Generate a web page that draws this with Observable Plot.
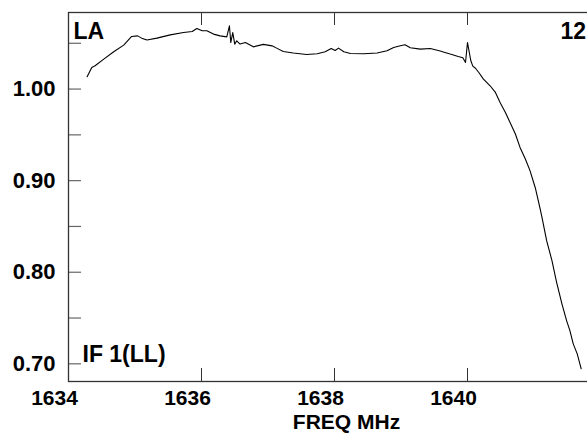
<!DOCTYPE html>
<html>
<head>
<meta charset="utf-8">
<script src="https://cdn.jsdelivr.net/npm/d3@7"></script>
<script src="https://cdn.jsdelivr.net/npm/@observablehq/plot@0.6"></script>
<style>
  html, body { margin: 0; padding: 0; background: #fff; overflow: hidden; }
</style>
</head>
<body>
<div id="chart"></div>
<script>
const freq = [1634.28,1634.35,1634.40,1634.53,1634.68,1634.83,1634.95,1635.04,1635.10,1635.18,1635.33,1635.53,1635.73,1635.86,1635.93,1636.01,1636.08,1636.18,1636.28,1636.38,1636.42,1636.44,1636.47,1636.50,1636.53,1636.58,1636.66,1636.78,1636.93,1637.06,1637.13,1637.23,1637.38,1637.58,1637.74,1637.86,1637.95,1638.01,1638.06,1638.14,1638.24,1638.44,1638.64,1638.79,1638.89,1638.99,1639.06,1639.14,1639.29,1639.44,1639.59,1639.66,1639.74,1639.80,1639.86,1639.93,1639.97,1640.00,1640.05,1640.08,1640.12,1640.17,1640.24,1640.34,1640.42,1640.49,1640.57,1640.64,1640.72,1640.79,1640.87,1640.94,1641.02,1641.09,1641.12,1641.19,1641.27,1641.34,1641.42,1641.49,1641.54,1641.59,1641.65,1641.71];
const amplitude = [1.0134,1.0236,1.0254,1.0327,1.0407,1.0480,1.0574,1.0581,1.0556,1.0535,1.0556,1.0592,1.0617,1.0628,1.0661,1.0636,1.0636,1.0600,1.0581,1.0570,1.0691,1.0508,1.0617,1.0491,1.0527,1.0491,1.0508,1.0461,1.0488,1.0472,1.0447,1.0410,1.0393,1.0377,1.0385,1.0407,1.0443,1.0421,1.0447,1.0407,1.0388,1.0385,1.0393,1.0418,1.0454,1.0472,1.0483,1.0451,1.0436,1.0443,1.0415,1.0400,1.0382,1.0370,1.0356,1.0341,1.0290,1.0508,1.0309,1.0251,1.0227,1.0181,1.0109,1.0036,0.9963,0.9854,0.9745,0.9636,0.9509,0.9363,0.9236,0.9109,0.8920,0.8700,0.8599,0.8345,0.8127,0.7890,0.7655,0.7472,0.7363,0.7218,0.7109,0.6946];

const xTicks = [1634, 1636, 1638, 1640, 1642];
const xLabels = [1634, 1636, 1638, 1640];
const yTicks = [0.70, 0.75, 0.80, 0.85, 0.90, 0.95, 1.00, 1.05];
const yLabels = [0.70, 0.80, 0.90, 1.00];
const xTitle = "FREQ MHz";
const sourceLabel = "LA";
const ifLabel = "IF 1(LL)";
const dateLabel = "12";

const data = freq.map((f, i) => ({f, v: amplitude[i]}));

const W = 587, H = 434;
const mL = 68, mR = -13, mT = 12, mB = 53;
const plotW = W - mL - mR, plotH = H - mT - mB;
const tickLen = 13;
const font = "'Liberation Sans', Arial, Helvetica, sans-serif";

const chart = Plot.plot({
  width: W,
  height: H,
  marginLeft: mL,
  marginRight: mR,
  marginTop: mT,
  marginBottom: mB,
  style: {fontFamily: font, fontSize: "22px", fontWeight: "bold", color: "#000", background: "#fff"},
  x: {domain: [1634, 1642]},
  y: {domain: [0.6807, 1.0836]},
  marks: [
    Plot.tickY(yTicks, {y: d => d, stroke: "#666", strokeWidth: 1.2, insetRight: plotW - tickLen}),
    Plot.tickY(yTicks, {y: d => d, stroke: "#666", strokeWidth: 1.2, insetLeft: plotW - tickLen}),
    Plot.tickX(xTicks, {x: d => d, stroke: "#333", strokeWidth: 1, insetTop: plotH - tickLen}),
    Plot.tickX(xTicks, {x: d => d, stroke: "#333", strokeWidth: 1, insetBottom: plotH - tickLen}),
    Plot.frame({stroke: "#333", strokeWidth: 1.3}),
    Plot.axisY(yLabels, {tickSize: 0, tickPadding: 13, tickFormat: d => d.toFixed(2), fontSize: 22, fontWeight: "bold", label: null}),
    Plot.axisX(xLabels, {tickSize: 0, tickPadding: 9, dx: -14, tickFormat: d => String(d), fontSize: 21, fontWeight: "bold", label: null}),
    Plot.text([xTitle], {frameAnchor: "bottom", dx: 12, dy: 33, lineAnchor: "top", textAnchor: "middle", fontSize: 21, fontWeight: "bold", fill: "#000"}),
    Plot.line(data, {x: "f", y: "v", stroke: "#000", strokeWidth: 1.1, clip: true}),
    Plot.text([sourceLabel], {frameAnchor: "top-left", dx: 5, dy: 10, lineAnchor: "top", textAnchor: "start", fontSize: 23, fontWeight: "bold", fill: "#000"}),
    Plot.text([dateLabel], {frameAnchor: "top-right", dx: -40, dy: 10, lineAnchor: "top", textAnchor: "start", fontSize: 23, fontWeight: "bold", fill: "#000"}),
    Plot.text([ifLabel], {frameAnchor: "bottom-left", dx: 14, dy: -20, lineAnchor: "bottom", textAnchor: "start", fontSize: 23, fontWeight: "bold", fill: "#000"})
  ]
});
document.getElementById("chart").appendChild(chart);
</script>
</body>
</html>
